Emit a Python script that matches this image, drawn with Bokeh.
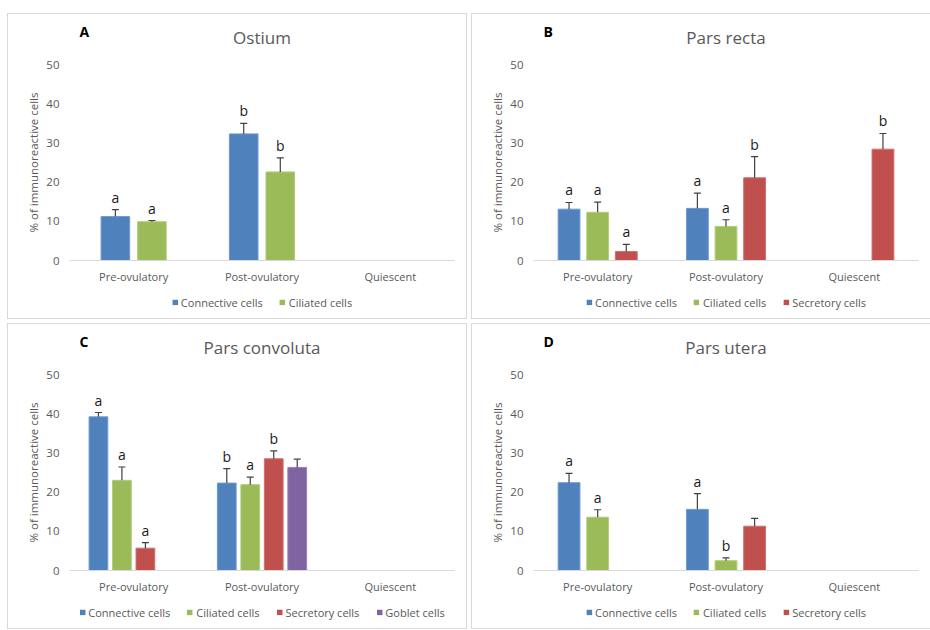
from bokeh.plotting import figure
from bokeh.models import Legend, LegendItem, ColumnDataSource, FactorRange, Range1d, FixedTicker
from bokeh.transform import dodge
from bokeh.layouts import row, column
from bokeh.embed import file_html
from bokeh.resources import INLINE
from bokeh.core.properties import value

# ---------------- data ----------------
categories = ["Pre-ovulatory", "Post-ovulatory", "Quiescent"]
y_ticks = [0, 10, 20, 30, 40, 50]

# A - Ostium
ostium_connective = [11.2, 32.3, None]
ostium_connective_sem = [1.8, 2.7, None]
ostium_connective_sig = ["a", "b", ""]
ostium_ciliated = [9.9, 22.6, None]
ostium_ciliated_sem = [0.3, 3.6, None]
ostium_ciliated_sig = ["a", "b", ""]

# B - Pars recta
recta_connective = [13.1, 13.3, None]
recta_connective_sem = [1.7, 3.9, None]
recta_connective_sig = ["a", "a", ""]
recta_ciliated = [12.3, 8.7, None]
recta_ciliated_sem = [2.6, 1.7, None]
recta_ciliated_sig = ["a", "a", ""]
recta_secretory = [2.3, 21.1, 28.4]
recta_secretory_sem = [1.8, 5.4, 4.0]
recta_secretory_sig = ["a", "b", "b"]

# C - Pars convoluta
conv_connective = [39.2, 22.3, None]
conv_connective_sem = [1.1, 3.7, None]
conv_connective_sig = ["a", "b", ""]
conv_ciliated = [23.0, 21.9, None]
conv_ciliated_sem = [3.4, 1.9, None]
conv_ciliated_sig = ["a", "a", ""]
conv_secretory = [5.7, 28.5, None]
conv_secretory_sem = [1.4, 2.0, None]
conv_secretory_sig = ["a", "b", ""]
conv_goblet = [None, 26.3, None]
conv_goblet_sem = [None, 2.1, None]
conv_goblet_sig = ["", "", ""]

# D - Pars utera
utera_connective = [22.4, 15.6, None]
utera_connective_sem = [2.4, 4.0, None]
utera_connective_sig = ["a", "a", ""]
utera_ciliated = [13.6, 2.5, None]
utera_ciliated_sem = [1.9, 0.7, None]
utera_ciliated_sig = ["a", "b", ""]
utera_secretory = [None, 11.3, None]
utera_secretory_sem = [None, 2.0, None]
utera_secretory_sig = ["", "", ""]

# ---------------- style ----------------
FONT = "Open Sans"
GREY = "#595959"
COLORS = {"Connective cells": ("#4F81BD", "#6F9BD0"),
          "Ciliated cells": ("#9BBB59", "#B2CD78"),
          "Secretory cells": ("#C0504D", "#D26F6C"),
          "Goblet cells": ("#8064A2", "#9A82B8")}
ERR = "#404040"
W, H = 458, 304
HEAD, LEGH = 40, 32
MAIN = H - HEAD - LEGH
BL, BR, BT, BB = 61, 12, 10, 26


def blank(height, yr):
    f = figure(width=W, height=height, x_range=Range1d(0, W), y_range=yr,
               x_axis_type=None, y_axis_type=None, output_backend="svg",
               toolbar_location=None, min_border=0)
    f.outline_line_color = None
    f.grid.grid_line_color = None
    return f


def make_panel(letter, title, series, bar_w, step):
    # header: panel letter + title
    head = blank(HEAD, Range1d(HEAD, 0))
    head.text(x=[12], y=[17], text=[letter], text_font=value(FONT), text_font_style="bold",
              text_font_size="14px", text_color="#000000", text_baseline="middle")
    head.text(x=[W / 2], y=[23], text=[title], text_font=value(FONT), text_font_size="17px",
              text_color=GREY, text_align="center", text_baseline="middle")

    # main chart
    p = figure(x_range=FactorRange(*categories, range_padding=0), y_range=Range1d(0, 50),
               width=W, height=MAIN, output_backend="svg", toolbar_location=None,
               min_border_left=BL, min_border_right=BR, min_border_top=BT, min_border_bottom=BB)
    p.outline_line_color = None
    p.grid.grid_line_color = None
    p.yaxis.ticker = FixedTicker(ticks=y_ticks)
    p.yaxis.axis_line_color = None
    p.yaxis.major_tick_line_color = None
    p.yaxis.minor_tick_line_color = None
    p.yaxis.major_tick_out = 0
    p.yaxis.major_tick_in = 0
    p.yaxis.minor_tick_out = 0
    p.yaxis.major_label_text_font = FONT
    p.yaxis.major_label_text_font_size = "11.5px"
    p.yaxis.major_label_text_color = GREY
    p.yaxis.major_label_standoff = 10
    p.yaxis.axis_label = "% of immunoreactive cells"
    p.yaxis.axis_label_text_font = FONT
    p.yaxis.axis_label_text_font_style = "normal"
    p.yaxis.axis_label_text_font_size = "11.5px"
    p.yaxis.axis_label_text_color = GREY
    p.yaxis.axis_label_standoff = 2
    p.xaxis.axis_line_color = "#D9D9D9"
    p.xaxis.major_tick_line_color = None
    p.xaxis.minor_tick_line_color = None
    p.xaxis.major_tick_out = 0
    p.xaxis.major_tick_in = 0
    p.xaxis.major_label_text_font = FONT
    p.xaxis.major_label_text_font_size = "11px"
    p.xaxis.major_label_text_color = GREY
    p.xaxis.major_label_standoff = 8

    # legend strip
    lg = blank(LEGH, Range1d(0, 1))
    items = []
    n = len(series)
    for i, (name, vals, sems, sigs) in enumerate(series):
        off = (i - (n - 1) / 2) * step
        idx = [j for j, v in enumerate(vals) if v is not None]
        src = ColumnDataSource(dict(
            cat=[categories[j] for j in idx],
            top=[vals[j] for j in idx],
            err=[vals[j] + sems[j] for j in idx],
            sig=[sigs[j] for j in idx]))
        xd = dodge("cat", off, range=p.x_range)
        fill, edge = COLORS[name]
        p.vbar(x=xd, top="top", width=bar_w, source=src,
               fill_color=fill, line_color=edge, line_width=1)
        p.segment(x0=xd, y0="top", x1=xd, y1="err", source=src,
                  line_color=ERR, line_width=1.2)
        p.scatter(x=xd, y="err", source=src, marker="dash", size=7,
                  line_color=ERR, line_width=1.2)
        p.text(x=xd, y="err", text="sig", source=src, y_offset=-3,
               text_align="center", text_baseline="bottom",
               text_font=value(FONT), text_font_size="14px", text_color="#1a1a1a")
        # zero-height swatch renderer, only used for the legend entry
        r = lg.vbar(x=[-50], top=[0], bottom=[0], width=1, fill_color=fill, line_color=None)
        items.append(LegendItem(label=name, renderers=[r]))

    leg = Legend(items=items, orientation="horizontal", location="center",
                 border_line_color=None, background_fill_alpha=0,
                 label_text_font=FONT, label_text_font_size="11px",
                 label_text_color=GREY, glyph_width=7, glyph_height=7,
                 label_standoff=3, spacing=16, padding=2, margin=0,
                 label_height=14)
    lg.add_layout(leg)

    return column(head, p, lg, spacing=0, styles={"outline": "1px solid #D9D9D9"})


pa = make_panel("A", "Ostium", [
    ("Connective cells", ostium_connective, ostium_connective_sem, ostium_connective_sig),
    ("Ciliated cells", ostium_ciliated, ostium_ciliated_sem, ostium_ciliated_sig)],
    0.223, 0.285)
pb = make_panel("B", "Pars recta", [
    ("Connective cells", recta_connective, recta_connective_sem, recta_connective_sig),
    ("Ciliated cells", recta_ciliated, recta_ciliated_sem, recta_ciliated_sig),
    ("Secretory cells", recta_secretory, recta_secretory_sem, recta_secretory_sig)],
    0.17, 0.223)
pc = make_panel("C", "Pars convoluta", [
    ("Connective cells", conv_connective, conv_connective_sem, conv_connective_sig),
    ("Ciliated cells", conv_ciliated, conv_ciliated_sem, conv_ciliated_sig),
    ("Secretory cells", conv_secretory, conv_secretory_sem, conv_secretory_sig),
    ("Goblet cells", conv_goblet, conv_goblet_sem, conv_goblet_sig)],
    0.146, 0.183)
pd_ = make_panel("D", "Pars utera", [
    ("Connective cells", utera_connective, utera_connective_sem, utera_connective_sig),
    ("Ciliated cells", utera_ciliated, utera_ciliated_sem, utera_ciliated_sig),
    ("Secretory cells", utera_secretory, utera_secretory_sem, utera_secretory_sig)],
    0.17, 0.223)

layout = column(row(pa, pb, spacing=6), row(pc, pd_, spacing=6), spacing=6,
                margin=(14, 0, 0, 8))
open("out.html", "w").write(file_html(layout, INLINE))
